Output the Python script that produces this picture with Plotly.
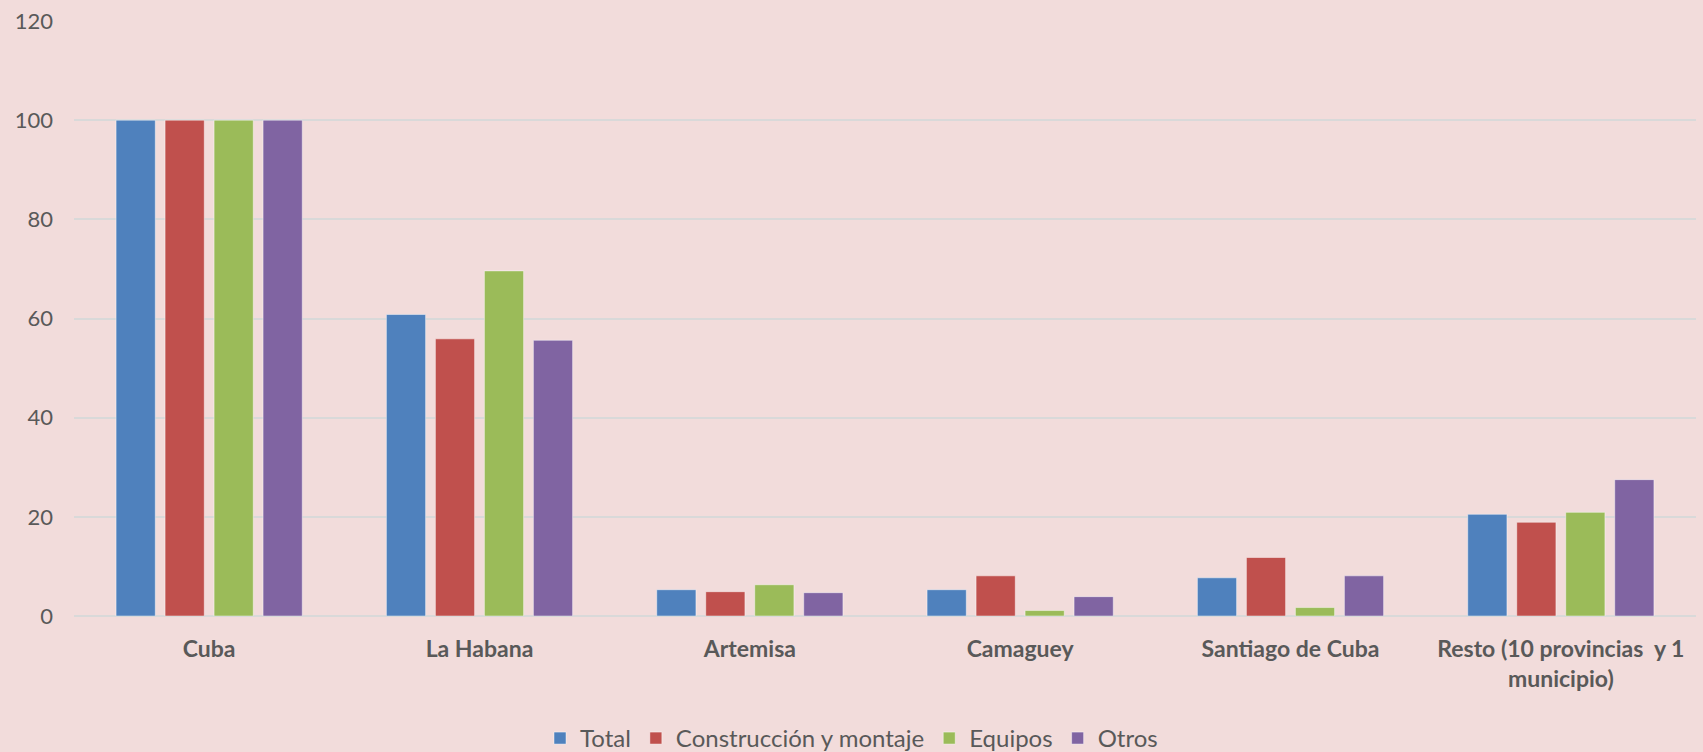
import plotly.graph_objects as go

categories = ["Cuba", "La Habana", "Artemisa", "Camaguey", "Santiago de Cuba",
              "Resto (10 provincias\u00a0 y 1<br>municipio)"]
total = [100, 60.8, 5.3, 5.3, 7.7, 20.5]
construccion = [100, 55.9, 4.9, 8.1, 11.8, 18.9]
equipos = [100, 69.6, 6.3, 1.1, 1.7, 20.9]
otros = [100, 55.6, 4.7, 3.9, 8.1, 27.5]

series = [
    ("Total", total, "#4F81BD"),
    ("Construcción y montaje", construccion, "#C0504D"),
    ("Equipos", equipos, "#9BBB59"),
    ("Otros", otros, "#8064A2"),
]

fig = go.Figure()
for name, vals, color in series:
    fig.add_trace(go.Bar(
        x=categories, y=vals, name=name,
        marker=dict(color=color, line=dict(color="rgba(255,255,255,0.45)", width=1)),
    ))

fig.update_layout(
    width=1703, height=752,
    paper_bgcolor="#F2DCDB", plot_bgcolor="#F2DCDB",
    barmode="group", bargap=0.275, bargroupgap=0.2,
    margin=dict(l=74, r=7, t=16, b=136),
    font=dict(family="Lato, 'Open Sans', sans-serif", color="#595959", size=22),
    showlegend=True,
    legend=dict(orientation="h", xref="container", yref="container",
                x=0.5, xanchor="center", y=0.018, yanchor="middle",
                font=dict(size=24, color="#595959"), bgcolor="rgba(0,0,0,0)",
                traceorder="normal"),
    xaxis=dict(showgrid=False, showline=False, ticks="",
               tickfont=dict(size=23, color="#595959", family="Lato, sans-serif", weight="bold"),
               ticklabelstandoff=17),
    yaxis=dict(range=[0, 120], dtick=20, showgrid=True, gridcolor="#D9D9D9", gridwidth=1.5,
               zeroline=True, zerolinecolor="#D9D9D9", zerolinewidth=1.5,
               showline=False, ticks="",
               tickfont=dict(size=22, color="#595959"), ticklabelstandoff=20),
)

fig.write_html("out.html", config={"displayModeBar": False},
               post_script="document.body.style.margin='0';")
